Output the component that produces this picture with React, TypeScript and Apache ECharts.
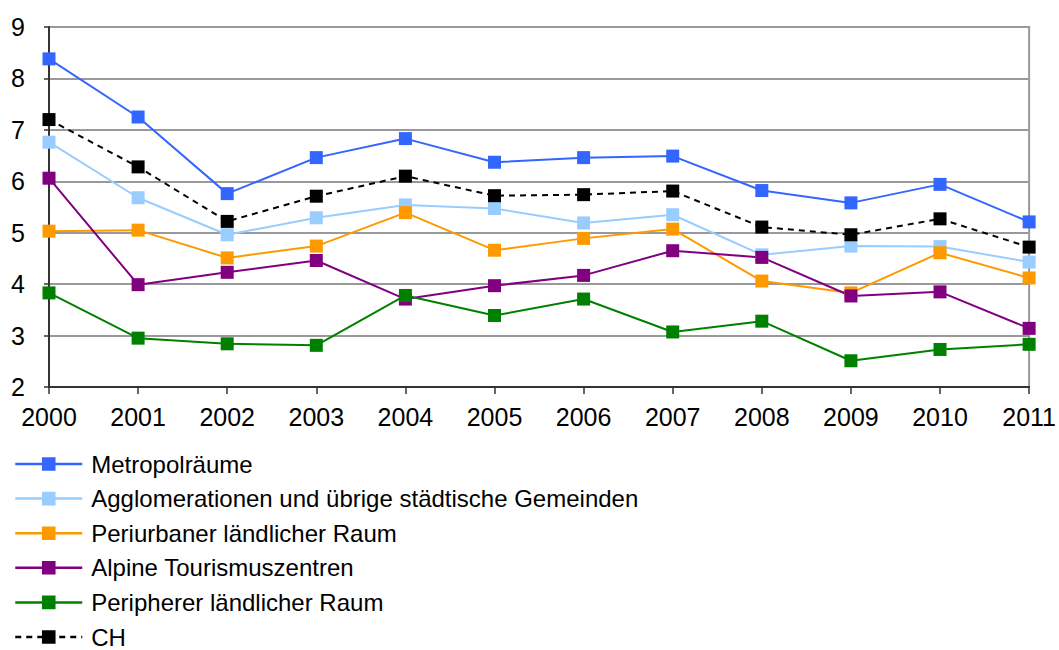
import React, { useEffect, useRef } from "react";
import * as echarts from "echarts";

const years = ["2000", "2001", "2002", "2003", "2004", "2005", "2006", "2007", "2008", "2009", "2010", "2011"];
const metropol = [8.38, 7.25, 5.76, 6.46, 6.83, 6.37, 6.46, 6.49, 5.82, 5.58, 5.94, 5.21];
const agglo = [6.76, 5.68, 4.96, 5.29, 5.54, 5.47, 5.19, 5.35, 4.57, 4.74, 4.73, 4.43];
const periurban = [5.03, 5.05, 4.51, 4.74, 5.39, 4.66, 4.89, 5.07, 4.06, 3.83, 4.61, 4.12];
const alpine = [6.06, 3.99, 4.23, 4.46, 3.71, 3.97, 4.17, 4.65, 4.52, 3.77, 3.85, 3.14];
const peripher = [3.83, 2.95, 2.84, 2.81, 3.78, 3.39, 3.71, 3.07, 3.28, 2.51, 2.73, 2.83];
const ch = [7.2, 6.28, 5.22, 5.71, 6.1, 5.72, 5.74, 5.81, 5.11, 4.96, 5.27, 4.72];

const names = [
  "Metropolräume",
  "Agglomerationen und übrige städtische Gemeinden",
  "Periurbaner ländlicher Raum",
  "Alpine Tourismuszentren",
  "Peripherer ländlicher Raum",
  "CH",
];
const colors = ["#3366FF", "#99CCFF", "#FF9900", "#800080", "#008000", "#000000"];
const dataSets = [metropol, agglo, periurban, alpine, peripher, ch];

export default function App() {
  const ref = useRef<HTMLDivElement>(null);
  useEffect(() => {
    if (!ref.current) return;
    const chart = echarts.init(ref.current, null, { renderer: "svg" });
    const font = "'Liberation Sans', Arial, sans-serif";
    chart.setOption({
      animation: false,
      backgroundColor: "#ffffff",
      textStyle: { fontFamily: font, color: "#000" },
      grid: {
        left: 49,
        right: 28,
        top: 27,
        bottom: 263,
        show: true,
        borderColor: "#999999",
        borderWidth: 2,
      },
      legend: {
        orient: "vertical",
        left: 14,
        top: 452,
        height: 300,
        padding: 0,
        itemWidth: 67,
        itemHeight: 17,
        itemGap: 10.6,
        lineStyle: { width: 2.5 },
        textStyle: { fontFamily: font, fontSize: 24, color: "#000", lineHeight: 24, padding: [0, 0, 0, 4] },
        data: names,
      },
      xAxis: {
        type: "category",
        data: years,
        boundaryGap: false,
        axisLine: { lineStyle: { color: "#333", width: 2 } },
        axisTick: { show: true, length: 7, lineStyle: { color: "#333", width: 1.5 }, alignWithLabel: true },
        axisLabel: { fontFamily: font, fontSize: 25, color: "#000", margin: 17 },
        splitLine: { show: false },
      },
      yAxis: {
        type: "value",
        min: 2,
        max: 9,
        interval: 1,
        axisLine: { show: true, lineStyle: { color: "#333", width: 2 } },
        axisTick: { show: true, length: 5, lineStyle: { color: "#333", width: 1.5 } },
        axisLabel: { fontFamily: font, fontSize: 25, color: "#000", margin: 24 },
        splitLine: { show: true, lineStyle: { color: "#999999", width: 2 } },
      },
      series: names.map((n, i) => ({
        name: n,
        type: "line",
        data: dataSets[i],
        symbol: "rect",
        symbolSize: 13,
        showSymbol: true,
        color: colors[i],
        itemStyle: { color: colors[i] },
        lineStyle: { color: colors[i], width: 2, type: i === 5 ? [6, 5] : "solid" },
      })),
    });
    return () => chart.dispose();
  }, []);
  return <div ref={ref} style={{ position: "fixed", left: 0, top: 0, width: 1059, height: 650 }} />;
}
